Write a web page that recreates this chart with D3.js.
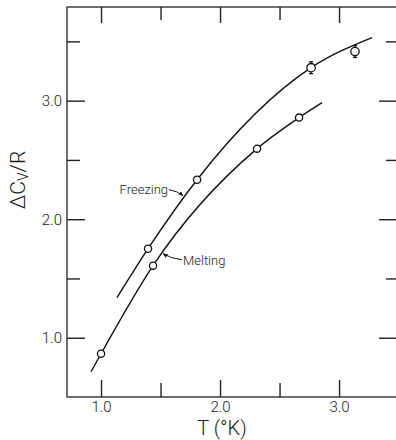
<!DOCTYPE html>
<html>
<head>
<meta charset="utf-8">
<script src="https://cdn.jsdelivr.net/npm/d3@7"></script>
<style>
  html, body { margin: 0; padding: 0; background: #fff; }
  svg { display: block; }
  text { font-family: Roboto, "Liberation Sans", sans-serif; fill: #1a1a1a; }
</style>
</head>
<body>
<svg id="chart" width="396" height="440"></svg>
<script>
// Excess heat capacity of solid vs. temperature, freezing and melting runs.
const freezingT    = [1.395, 1.807, 2.765, 3.134];
const freezingCv   = [1.751, 2.333, 3.278, 3.414];
const freezingErr  = [0, 0, 0.05, 0.05];
const meltingT     = [1.0, 1.437, 2.311, 2.664];
const meltingCv    = [0.865, 1.608, 2.595, 2.857];

// Smooth fitted curves drawn through the runs
const freezingCurveT  = [1.134, 1.395, 1.807, 2.765, 3.277];
const freezingCurveCv = [1.338, 1.751, 2.333, 3.278, 3.532];
const meltingCurveT   = [0.916, 1.0, 1.437, 2.311, 2.664, 2.857];
const meltingCurveCv  = [0.713, 0.865, 1.608, 2.595, 2.857, 2.983];

const xMajor = [1, 2, 3];
const xMinor = [1.5, 2.5];
const yMajor = [1, 2, 3];
const yMinor = [1.5, 2.5, 3.5];

const svg = d3.select("#chart");
const x = d3.scaleLinear().domain([0.714, 3.487]).range([67, 397]);
const y = d3.scaleLinear().domain([0.5, 3.79]).range([397, 7]);
const fmt = d3.format(".1f");

// Frame
svg.append("rect")
  .attr("x", x.range()[0]).attr("y", y.range()[1])
  .attr("width", x.range()[1] - x.range()[0])
  .attr("height", y.range()[0] - y.range()[1])
  .attr("fill", "none").attr("stroke", "#333").attr("stroke-width", 1.4);

function addAxis(axis, tx, ty, withText) {
  const g = svg.append("g").attr("transform", `translate(${tx},${ty})`).call(axis);
  g.select(".domain").remove();
  g.selectAll(".tick line").attr("stroke", "#222").attr("stroke-width", 1.4);
  g.selectAll("text").attr("font-size", 15).attr("font-weight", 300).attr("fill", "#1a1a1a");
  if (!withText) g.selectAll("text").remove();
  return g;
}
const yb = y.range()[0], yt = y.range()[1];
const xl = x.range()[0], xr = x.range()[1];

// Bottom and top
addAxis(d3.axisBottom(x).tickValues(xMajor).tickSize(-17).tickPadding(4).tickFormat(fmt), 0, yb, true);
addAxis(d3.axisBottom(x).tickValues(xMinor).tickSize(-14).tickFormat(""), 0, yb, false);
addAxis(d3.axisTop(x).tickValues(xMajor).tickSize(-16).tickFormat(""), 0, yt, false);
addAxis(d3.axisTop(x).tickValues(xMinor).tickSize(-13).tickFormat(""), 0, yt, false);
// Left and right
addAxis(d3.axisLeft(y).tickValues(yMajor).tickSize(-18).tickPadding(5).tickFormat(fmt), xl, 0, true);
addAxis(d3.axisLeft(y).tickValues(yMinor).tickSize(-13).tickFormat(""), xl, 0, false);
addAxis(d3.axisRight(y).tickValues(yMajor).tickSize(-18).tickFormat(""), xr, 0, false);
addAxis(d3.axisRight(y).tickValues(yMinor).tickSize(-11).tickFormat(""), xr, 0, false);

// Curves
const line = d3.line().x(d => x(d[0])).y(d => y(d[1])).curve(d3.curveMonotoneX);
svg.append("path")
  .attr("d", line(d3.zip(freezingCurveT, freezingCurveCv)))
  .attr("fill", "none").attr("stroke", "#111").attr("stroke-width", 1.4);
svg.append("path")
  .attr("d", line(d3.zip(meltingCurveT, meltingCurveCv)))
  .attr("fill", "none").attr("stroke", "#111").attr("stroke-width", 1.4);

// Error bars on the freezing points
const fz = d3.zip(freezingT, freezingCv, freezingErr);
fz.filter(d => d[2] > 0).forEach(d => {
  const g = svg.append("g").attr("stroke", "#111").attr("stroke-width", 1.3);
  g.append("line").attr("x1", x(d[0])).attr("x2", x(d[0]))
    .attr("y1", y(d[1] + d[2])).attr("y2", y(d[1] - d[2]));
  [d[1] + d[2], d[1] - d[2]].forEach(v => {
    g.append("line").attr("x1", x(d[0]) - 2).attr("x2", x(d[0]) + 2)
      .attr("y1", y(v)).attr("y2", y(v));
  });
});

// Points
function points(ts, vs, r) {
  svg.append("g").selectAll("circle").data(d3.zip(ts, vs)).join("circle")
    .attr("cx", d => x(d[0])).attr("cy", d => y(d[1]))
    .attr("r", (d, i) => r(i))
    .attr("fill", "#fff").attr("stroke", "#111").attr("stroke-width", 1.3);
}
points(freezingT, freezingCv, i => freezingErr[i] > 0 ? 4.2 : 3.6);
points(meltingT, meltingCv, () => 3.6);

// Curve labels with leader arrows
svg.append("defs").append("marker")
  .attr("id", "arrow").attr("viewBox", "0 0 10 10").attr("refX", 9).attr("refY", 5)
  .attr("markerWidth", 5).attr("markerHeight", 5).attr("orient", "auto")
  .append("path").attr("d", "M0,1 L10,5 L0,9 Z").attr("fill", "#111");

const freezeTip = [1.689, 2.198];
svg.append("text").attr("x", x(freezeTip[0]) - 15).attr("y", y(freezeTip[1]) - 2)
  .attr("text-anchor", "end").attr("font-size", 13).attr("font-weight", 300)
  .text("Freezing");
svg.append("path")
  .attr("d", `M${x(freezeTip[0]) - 14},${y(freezeTip[1]) - 6} Q${x(freezeTip[0]) - 6},${y(freezeTip[1]) - 5} ${x(freezeTip[0])},${y(freezeTip[1])}`)
  .attr("fill", "none").attr("stroke", "#111").attr("stroke-width", 1).attr("marker-end", "url(#arrow)");

const meltTip = [1.521, 1.709];
svg.append("text").attr("x", x(meltTip[0]) + 20).attr("y", y(meltTip[1]) + 11)
  .attr("text-anchor", "start").attr("font-size", 13).attr("font-weight", 300)
  .text("Melting");
svg.append("path")
  .attr("d", `M${x(meltTip[0]) + 19},${y(meltTip[1]) + 6} Q${x(meltTip[0]) + 8},${y(meltTip[1]) + 5} ${x(meltTip[0])},${y(meltTip[1])}`)
  .attr("fill", "none").attr("stroke", "#111").attr("stroke-width", 1).attr("marker-end", "url(#arrow)");

// Axis titles
svg.append("text").attr("x", 222).attr("y", 435).attr("text-anchor", "middle")
  .attr("font-size", 20).attr("font-weight", 300).text("T (°K)");

const yTitle = svg.append("text").attr("transform", "translate(25,180) rotate(-90)")
  .attr("text-anchor", "middle").attr("font-size", 21).attr("font-weight", 300);
yTitle.append("tspan").text("ΔC");
yTitle.append("tspan").attr("font-size", 14).attr("dy", 3).text("V");
yTitle.append("tspan").attr("dy", -3).text("/R");
</script>
</body>
</html>
